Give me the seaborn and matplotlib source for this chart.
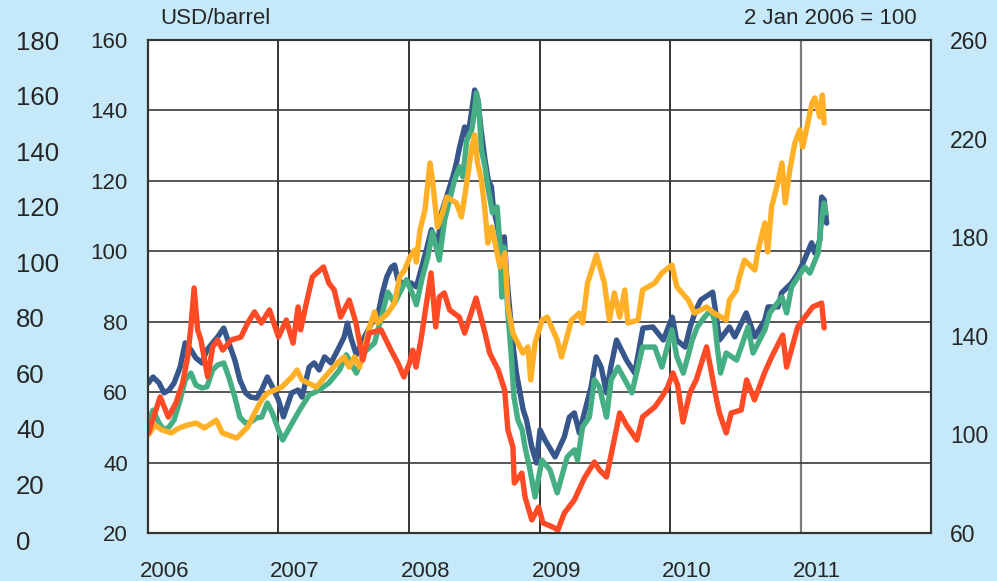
import matplotlib
matplotlib.use('Agg')
import matplotlib.pyplot as plt
import pandas as pd
import seaborn as sns

# Series (blue/green in USD/barrel, red/yellow indexed 2 Jan 2006 = 100)
blue_dates = [
    "2006-01-02", "2006-01-15", "2006-02-01", "2006-02-15", "2006-03-01", "2006-03-15", "2006-04-01",
    "2006-04-15", "2006-05-01", "2006-05-15", "2006-06-01", "2006-06-15", "2006-07-01", "2006-07-15",
    "2006-08-01", "2006-08-15", "2006-09-01", "2006-09-15", "2006-10-01", "2006-10-15", "2006-11-01",
    "2006-11-15", "2006-12-01", "2006-12-15", "2007-01-01", "2007-01-15", "2007-02-07", "2007-02-25",
    "2007-03-08", "2007-03-28", "2007-04-11", "2007-04-25", "2007-05-10", "2007-05-28", "2007-06-16",
    "2007-07-04", "2007-07-13", "2007-07-22", "2007-08-07", "2007-08-30", "2007-09-19", "2007-10-05",
    "2007-10-19", "2007-10-31", "2007-11-13", "2007-11-22", "2007-12-01", "2007-12-14", "2008-01-07",
    "2008-01-22", "2008-02-06", "2008-02-19", "2008-03-04", "2008-03-22", "2008-04-01", "2008-04-19",
    "2008-05-03", "2008-05-13", "2008-05-22", "2008-06-05", "2008-06-14", "2008-06-24", "2008-07-03",
    "2008-07-12", "2008-07-21", "2008-08-01", "2008-08-10", "2008-08-19", "2008-08-24", "2008-09-03",
    "2008-09-16", "2008-09-24", "2008-09-30", "2008-10-10", "2008-10-19", "2008-10-28", "2008-11-07",
    "2008-11-16", "2008-11-25", "2008-12-10", "2008-12-23", "2009-01-02", "2009-01-16", "2009-02-13",
    "2009-03-11", "2009-03-25", "2009-04-08", "2009-04-22", "2009-05-06", "2009-05-25", "2009-06-08",
    "2009-06-22", "2009-07-07", "2009-07-19", "2009-08-04", "2009-09-01", "2009-09-24", "2009-10-17",
    "2009-11-14", "2009-12-13", "2010-01-07", "2010-01-19", "2010-02-12", "2010-02-26", "2010-03-14",
    "2010-03-28", "2010-04-30", "2010-05-09", "2010-05-19", "2010-06-16", "2010-07-01", "2010-08-02",
    "2010-08-26", "2010-09-23", "2010-10-02", "2010-10-30", "2010-11-09", "2010-12-07", "2010-12-25",
    "2011-01-08", "2011-02-01", "2011-02-10", "2011-02-24", "2011-03-01", "2011-03-08", "2011-03-15",
]
blue_usd = [
    62.6, 64.3, 62.6, 59.8, 60.6, 62.6, 67.1, 74.0, 72.0, 69.7, 68.3, 72.0, 74.0, 75.7,
    78.2, 74.0, 69.1, 63.5, 59.8, 58.6, 58.3, 60.6, 64.3, 61.5, 57.8, 53.0, 59.8, 60.6,
    58.6, 67.1, 68.3, 66.3, 70.0, 68.3, 72.0, 75.7, 79.6, 75.7, 70.6, 75.7, 79.6, 81.3,
    88.2, 92.7, 95.5, 96.1, 91.9, 91.0, 91.0, 89.9, 95.5, 100.4, 106.1, 101.8, 110.9, 116.6,
    121.1, 125.1, 129.6, 135.3, 132.5, 139.3, 145.8, 143.0, 134.5, 125.9, 120.3, 118.3, 112.6, 108.0,
    101.2, 104.1, 93.8, 82.5, 72.8, 65.4, 59.8, 54.9, 52.1, 44.4, 39.9, 49.3, 46.4, 41.6,
    47.3, 52.9, 54.1, 48.4, 54.1, 61.5, 70.0, 67.1, 59.8, 67.1, 74.8, 69.1, 65.4, 78.2,
    78.5, 74.8, 81.3, 74.8, 72.8, 78.5, 83.3, 86.2, 88.4, 82.5, 74.8, 78.5, 75.7, 82.5,
    75.7, 80.5, 84.2, 84.2, 88.2, 91.0, 93.8, 96.7, 102.4, 99.5, 103.2, 115.4, 114.6, 108.0,
]

green_dates = [
    "2006-01-02", "2006-01-15", "2006-02-01", "2006-02-15", "2006-03-01", "2006-03-15", "2006-04-01",
    "2006-04-15", "2006-05-01", "2006-05-15", "2006-06-01", "2006-06-15", "2006-07-01", "2006-07-15",
    "2006-08-01", "2006-08-15", "2006-09-01", "2006-09-15", "2006-10-01", "2006-10-15", "2006-11-01",
    "2006-11-15", "2006-12-01", "2006-12-15", "2007-01-01", "2007-01-13", "2007-02-02", "2007-03-01",
    "2007-03-28", "2007-04-25", "2007-05-22", "2007-06-21", "2007-07-10", "2007-08-07", "2007-08-30",
    "2007-09-27", "2007-10-16", "2007-11-03", "2007-11-22", "2007-12-25", "2008-01-10", "2008-01-22",
    "2008-02-06", "2008-02-23", "2008-03-07", "2008-03-26", "2008-04-10", "2008-04-24", "2008-05-08",
    "2008-05-22", "2008-05-31", "2008-06-11", "2008-06-25", "2008-07-03", "2008-07-08", "2008-07-14",
    "2008-07-22", "2008-08-01", "2008-08-09", "2008-08-22", "2008-09-04", "2008-09-12", "2008-09-17",
    "2008-09-23", "2008-10-04", "2008-10-13", "2008-10-21", "2008-11-01", "2008-11-13", "2008-11-21",
    "2008-12-05", "2008-12-19", "2008-12-28", "2009-01-07", "2009-01-30", "2009-02-19", "2009-03-19",
    "2009-04-08", "2009-04-17", "2009-05-01", "2009-05-20", "2009-06-03", "2009-06-17", "2009-07-07",
    "2009-07-20", "2009-08-08", "2009-09-16", "2009-10-16", "2009-11-19", "2009-12-09", "2010-01-06",
    "2010-01-20", "2010-02-07", "2010-03-04", "2010-03-18", "2010-04-07", "2010-04-25", "2010-05-05",
    "2010-05-13", "2010-05-22", "2010-06-07", "2010-07-06", "2010-07-19", "2010-08-07", "2010-08-21",
    "2010-09-23", "2010-10-07", "2010-11-10", "2010-11-23", "2010-12-07", "2010-12-25", "2011-01-13",
    "2011-01-27", "2011-02-19", "2011-03-01", "2011-03-07", "2011-03-13",
]
green_usd = [
    51.2, 54.9, 51.2, 49.3, 50.1, 52.1, 57.8, 63.5, 65.4, 62.0, 61.2, 61.5, 66.3, 67.7,
    68.3, 64.3, 58.6, 52.9, 51.2, 51.5, 52.7, 52.9, 56.9, 54.1, 49.3, 46.4, 50.1, 54.9,
    59.2, 60.6, 62.6, 66.3, 70.6, 65.4, 71.4, 74.0, 81.3, 88.4, 85.3, 91.9, 88.2, 84.8,
    91.9, 98.4, 105.5, 97.5, 108.9, 114.6, 120.3, 124.0, 121.1, 131.6, 134.5, 140.1, 145.0, 142.1,
    128.8, 124.0, 118.3, 110.9, 112.6, 101.2, 87.0, 101.2, 82.5, 71.1, 58.6, 52.1, 49.3, 44.4,
    37.9, 30.2, 35.1, 40.7, 37.9, 31.4, 41.6, 43.6, 40.7, 50.1, 52.9, 63.5, 61.5, 52.9,
    63.5, 67.1, 59.8, 72.8, 72.8, 67.1, 77.7, 70.0, 65.4, 74.8, 78.5, 81.3, 83.3, 80.5,
    72.8, 65.4, 71.1, 69.1, 72.8, 78.5, 71.1, 77.7, 82.5, 87.0, 82.5, 89.9, 92.7, 95.5,
    93.8, 99.5, 108.9, 113.7, 110.9,
]

red_dates = [
    "2006-01-02", "2006-02-04", "2006-02-27", "2006-03-20", "2006-04-08", "2006-04-22", "2006-05-01",
    "2006-05-10", "2006-05-20", "2006-05-29", "2006-06-17", "2006-07-01", "2006-07-15", "2006-07-29",
    "2006-08-22", "2006-09-18", "2006-10-07", "2006-10-26", "2006-11-14", "2006-12-07", "2007-01-01",
    "2007-01-23", "2007-02-11", "2007-02-25", "2007-03-04", "2007-03-22", "2007-04-06", "2007-05-07",
    "2007-05-22", "2007-06-06", "2007-06-24", "2007-07-18", "2007-08-06", "2007-08-25", "2007-09-12",
    "2007-10-15", "2007-11-12", "2007-12-01", "2007-12-18", "2008-01-03", "2008-01-12", "2008-01-21",
    "2008-02-05", "2008-03-03", "2008-03-16", "2008-03-26", "2008-04-09", "2008-04-24", "2008-05-21",
    "2008-06-05", "2008-07-07", "2008-08-01", "2008-08-14", "2008-09-07", "2008-09-25", "2008-10-04",
    "2008-10-18", "2008-10-22", "2008-11-12", "2008-11-21", "2008-12-10", "2008-12-29", "2009-01-10",
    "2009-02-07", "2009-02-21", "2009-03-11", "2009-04-08", "2009-05-06", "2009-06-03", "2009-06-17",
    "2009-07-07", "2009-08-13", "2009-09-01", "2009-09-30", "2009-10-16", "2009-11-19", "2009-12-09",
    "2009-12-25", "2010-01-09", "2010-01-22", "2010-02-06", "2010-02-25", "2010-03-15", "2010-04-13",
    "2010-04-27", "2010-05-11", "2010-05-19", "2010-06-07", "2010-06-21", "2010-07-19", "2010-08-03",
    "2010-08-25", "2010-09-22", "2010-10-12", "2010-11-12", "2010-11-23", "2010-12-24", "2011-01-07",
    "2011-02-04", "2011-03-01", "2011-03-08",
]
red_index = [
    100.6, 115.2, 107.0, 112.7, 120.9, 131.4, 143.6, 159.4, 142.4, 138.3, 123.3, 135.5, 138.3, 134.2,
    138.3, 139.5, 145.2, 149.7, 145.2, 150.5, 139.5, 146.4, 137.0, 151.7, 142.4, 154.5, 163.9, 167.9,
    161.4, 158.6, 147.6, 154.5, 145.2, 130.2, 141.1, 142.4, 134.2, 129.0, 123.3, 129.0, 134.2, 127.3,
    139.5, 165.5, 143.6, 155.7, 157.4, 150.5, 147.6, 141.1, 155.3, 141.1, 133.0, 126.1, 118.0, 101.8,
    94.9, 80.3, 84.3, 74.6, 65.3, 70.5, 64.1, 62.4, 61.2, 68.1, 73.4, 82.3, 88.8, 85.6,
    82.7, 108.7, 103.8, 97.7, 107.1, 111.1, 115.2, 119.2, 124.9, 120.0, 105.0, 116.8, 122.1, 135.5,
    124.9, 114.0, 108.7, 100.6, 108.7, 109.9, 122.1, 114.0, 124.9, 131.4, 140.3, 127.3, 143.6, 146.4,
    151.7, 153.3, 143.2,
]

yellow_dates = [
    "2006-01-02", "2006-01-20", "2006-02-09", "2006-03-07", "2006-03-29", "2006-04-21", "2006-05-16",
    "2006-06-08", "2006-07-11", "2006-07-28", "2006-09-06", "2006-10-07", "2006-10-26", "2006-11-15",
    "2006-12-02", "2007-01-10", "2007-02-08", "2007-02-22", "2007-03-08", "2007-04-17", "2007-05-28",
    "2007-06-15", "2007-07-04", "2007-07-18", "2007-08-02", "2007-08-16", "2007-09-13", "2007-09-27",
    "2007-10-05", "2007-11-03", "2007-11-22", "2007-12-06", "2007-12-20", "2008-01-04", "2008-01-18",
    "2008-01-22", "2008-02-01", "2008-02-15", "2008-02-29", "2008-03-07", "2008-03-21", "2008-04-04",
    "2008-04-16", "2008-05-13", "2008-05-27", "2008-06-11", "2008-06-25", "2008-07-03", "2008-07-11",
    "2008-07-22", "2008-07-31", "2008-08-09", "2008-08-20", "2008-09-12", "2008-09-26", "2008-10-04",
    "2008-10-18", "2008-11-15", "2008-11-29", "2008-12-07", "2008-12-19", "2009-01-08", "2009-01-22",
    "2009-02-19", "2009-03-03", "2009-03-31", "2009-04-22", "2009-05-01", "2009-05-15", "2009-06-09",
    "2009-07-01", "2009-07-15", "2009-07-29", "2009-08-13", "2009-08-27", "2009-09-05", "2009-10-03",
    "2009-10-16", "2009-11-19", "2009-12-09", "2010-01-06", "2010-01-20", "2010-02-21", "2010-03-10",
    "2010-04-13", "2010-05-04", "2010-06-07", "2010-06-16", "2010-07-06", "2010-07-14", "2010-07-28",
    "2010-08-26", "2010-09-03", "2010-09-23", "2010-10-01", "2010-10-12", "2010-10-29", "2010-11-10",
    "2010-11-19", "2010-12-02", "2010-12-16", "2010-12-30", "2011-01-07", "2011-01-19", "2011-02-02",
    "2011-02-10", "2011-02-24", "2011-03-03", "2011-03-08",
]
yellow_index = [
    99.8, 103.8, 101.8, 100.6, 102.6, 103.8, 104.6, 102.6, 105.8, 100.6, 98.5, 103.0, 108.7, 114.0,
    116.8, 119.2, 123.3, 126.1, 122.1, 119.2, 126.1, 129.0, 131.4, 127.3, 131.4, 127.3, 143.6, 149.7,
    145.2, 149.2, 153.3, 163.9, 166.7, 172.0, 174.8, 169.9, 182.9, 191.0, 210.1, 203.2, 184.1, 189.8,
    196.3, 193.9, 188.2, 202.0, 216.6, 221.5, 210.1, 203.2, 192.3, 177.6, 184.1, 167.9, 173.6, 151.7,
    141.1, 133.0, 135.5, 122.1, 137.1, 146.4, 147.6, 138.3, 131.4, 146.4, 149.2, 145.2, 161.4, 172.8,
    161.4, 146.4, 157.4, 147.6, 158.6, 145.2, 146.4, 158.6, 161.4, 165.5, 168.7, 159.8, 154.5, 149.2,
    151.7, 149.2, 146.4, 154.5, 158.6, 163.9, 170.7, 166.7, 174.0, 185.8, 174.0, 192.3, 202.0, 210.1,
    193.9, 207.3, 218.2, 223.5, 216.6, 224.7, 234.4, 236.5, 228.8, 237.7, 226.3,
]

# Axis ticks and labels
usd_ticks = [20, 40, 60, 80, 100, 120, 140, 160]
outer_ticks = [0, 20, 40, 60, 80, 100, 120, 140, 160, 180]
index_ticks = [60, 100, 140, 180, 220, 260]
year_labels = ["2006", "2007", "2008", "2009", "2010", "2011"]

BG = '#C5E9F8'
COLORS = {'blue': '#37578C', 'green': '#45AF83', 'red': '#FF4A26', 'yellow': '#FFB026'}
LW = 3.9

sns.set_style('white')
plt.rcParams['font.family'] = ['Liberation Sans', 'DejaVu Sans']

W, H = 997, 581
fig = plt.figure(figsize=(W / 100, H / 100), dpi=100, facecolor=BG)

# main plot area (pixel box 148..931 x 40..533)
ax = fig.add_axes([148 / W, 1 - 533 / H, 783 / W, 493 / H])
ax.set_facecolor('white')

blue = pd.DataFrame({'date': pd.to_datetime(blue_dates), 'value': blue_usd})
green = pd.DataFrame({'date': pd.to_datetime(green_dates), 'value': green_usd})
red = pd.DataFrame({'date': pd.to_datetime(red_dates), 'value': red_index})
yellow = pd.DataFrame({'date': pd.to_datetime(yellow_dates), 'value': yellow_index})

sns.lineplot(data=blue, x='date', y='value', ax=ax, color=COLORS['blue'], linewidth=LW)
sns.lineplot(data=green, x='date', y='value', ax=ax, color=COLORS['green'], linewidth=LW)

ax2 = ax.twinx()
sns.lineplot(data=yellow, x='date', y='value', ax=ax2, color=COLORS['yellow'], linewidth=LW)
sns.lineplot(data=red, x='date', y='value', ax=ax2, color=COLORS['red'], linewidth=LW)

ax.set_xlim(pd.Timestamp('2006-01-01'), pd.Timestamp('2012-01-01'))
ax.set_ylim(20, 160)
ax2.set_ylim(60, 260)
for a in (ax, ax2):
    a.set_xlabel('')
    a.set_ylabel('')

# year gridlines, labels sit a little to the right of each gridline
ax.set_xticks(pd.to_datetime([f"{y}-01-01" for y in range(2006, 2013)]))
ax.set_xticklabels([])
ax.set_xticks(pd.to_datetime([f"{y}-02-16" for y in year_labels]), minor=True)
ax.set_xticklabels(year_labels, minor=True)
ax.tick_params(axis='x', which='both', length=0)
ax.tick_params(axis='x', which='minor', pad=20.5, labelsize=16)

ax.set_yticks(usd_ticks)
ax.tick_params(axis='y', length=0, pad=14.4, labelsize=16)
ax2.set_yticks(index_ticks)
ax2.tick_params(axis='y', length=0, pad=13.5, labelsize=16.5)

ax.grid(axis='y', color='#3a3a3a', linewidth=1.2)
ax.grid(axis='x', which='major', color='#111111', linewidth=1.2)
ax.xaxis.get_gridlines()[5].set_color('#7a7a7a')
ax.xaxis.get_gridlines()[5].set_linewidth(1.6)
ax.set_axisbelow(True)

for a in (ax, ax2):
    for s in a.spines.values():
        s.set_color('#333333')
        s.set_linewidth(1.5)
        s.set_visible(True)

# outer left scale (0..180), labels left aligned at the figure edge
ax_out = fig.add_axes([0, 1 - 540 / H, 16 / W, 500 / H])
ax_out.set_facecolor('none')
ax_out.set_ylim(0, 180)
ax_out.set_yticks(outer_ticks)
ax_out.yaxis.tick_right()
ax_out.tick_params(axis='y', length=0, pad=0, labelsize=18.5)
ax_out.set_xticks([])
for s in ax_out.spines.values():
    s.set_visible(False)

fig.text(160 / W, 1 - 19 / H, 'USD/barrel', ha='left', va='center', fontsize=16)
fig.text(917 / W, 1 - 19 / H, '2 Jan 2006 = 100', ha='right', va='center', fontsize=16)

fig.savefig('out.png', dpi=100, facecolor=BG)
print('saved out.png')
